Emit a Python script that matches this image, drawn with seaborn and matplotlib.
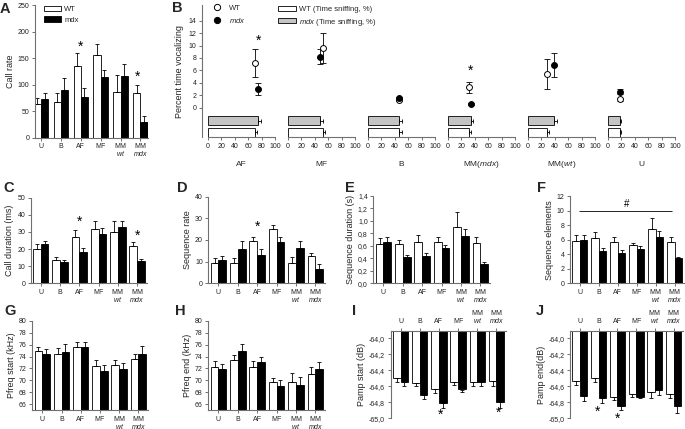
import numpy as np
import pandas as pd
import matplotlib
matplotlib.use('Agg')
import matplotlib.pyplot as plt
import seaborn as sns
from matplotlib.patches import Patch
from matplotlib.lines import Line2D
from matplotlib.ticker import FuncFormatter

# ---- data ----
conds = ['U', 'B', 'AF', 'MF', 'MM\n$\\it{wt}$', 'MM\n$\\it{mdx}$']

# A: call rate
rate_wt = [63, 68, 135, 156, 87, 84]
rate_wt_err = [11, 16, 24, 20, 31, 16]
rate_mdx = [73, 90, 76, 114, 117, 30]
rate_mdx_err = [12, 22, 18, 14, 21, 11]

# B: percent time vocalizing vs time sniffing
contexts = ['AF', 'MF', 'B', 'MM($\\it{mdx}$)', 'MM($\\it{wt}$)', 'U']
voc_wt = [7.2, 9.6, 1.25, 3.25, 5.4, 1.35]
voc_wt_err = [2.2, 2.4, 0.15, 0.95, 2.4, 0.2]
voc_mdx = [3.0, 8.2, 1.6, 0.6, 6.9, 2.6]
voc_mdx_err = [1.0, 1.2, 0.15, 0.15, 1.9, 0.4]
sniff_wt = [69.5, 52, 47, 31.5, 28, 18]
sniff_wt_err = [3.5, 2.5, 3, 3, 4, 1.5]
sniff_mdx = [74.5, 47.5, 47, 34, 39, 18]
sniff_mdx_err = [4.5, 4, 3.5, 4, 4, 1.5]

# C: call duration (ms)
dur_wt = [20.0, 13.6, 26.9, 31.5, 30.2, 22.0]
dur_wt_err = [2.8, 2.0, 4.0, 5.1, 6.4, 2.3]
dur_mdx = [22.8, 12.3, 18.1, 28.8, 33.1, 13.2]
dur_mdx_err = [2.1, 1.3, 2.3, 3.3, 3.5, 1.0]

# D: sequence rate
seq_wt = [9.5, 9.5, 19.5, 24.9, 9.2, 12.6]
seq_wt_err = [2.0, 2.3, 2.0, 2.0, 2.8, 1.2]
seq_mdx = [10.8, 15.8, 13.1, 19.1, 16.5, 6.5]
seq_mdx_err = [2.0, 3.7, 2.6, 2.4, 3.0, 2.3]

# E: sequence duration (s)
sdur_wt = [0.63, 0.625, 0.668, 0.657, 0.908, 0.652]
sdur_wt_err = [0.09, 0.07, 0.107, 0.091, 0.232, 0.096]
sdur_mdx = [0.67, 0.417, 0.438, 0.561, 0.764, 0.305]
sdur_mdx_err = [0.08, 0.037, 0.052, 0.054, 0.106, 0.032]

# F: sequence elements
elem_wt = [5.86, 6.27, 5.73, 5.27, 7.47, 5.63]
elem_wt_err = [0.78, 0.83, 0.68, 0.32, 1.46, 0.78]
elem_mdx = [5.95, 4.44, 4.21, 4.72, 6.41, 3.44]
elem_mdx_err = [0.69, 0.37, 0.37, 0.41, 0.78, 0.22]

# G: peak frequency start (kHz)
fst_wt = [74.9, 74.4, 75.7, 72.4, 72.5, 73.6]
fst_wt_err = [0.8, 1.0, 0.8, 1.0, 1.0, 0.8]
fst_mdx = [74.4, 74.7, 75.6, 71.5, 71.9, 74.4]
fst_mdx_err = [0.9, 1.4, 0.8, 1.1, 1.0, 1.4]

# H: peak frequency end (kHz)
fend_wt = [72.3, 73.4, 72.3, 69.8, 69.7, 71.1]
fend_wt_err = [1.0, 0.9, 1.0, 0.6, 1.6, 1.1]
fend_mdx = [71.9, 74.9, 73.1, 69.1, 69.2, 71.9]
fend_mdx_err = [0.9, 1.3, 0.9, 1.0, 1.4, 1.2]

# I: peak amplitude start (dB)
ast_wt = [-64.50, -64.56, -64.63, -64.54, -64.55, -64.53]
ast_wt_err = [0.05, 0.04, 0.05, 0.04, 0.05, 0.07]
ast_mdx = [-64.55, -64.71, -64.81, -64.64, -64.55, -64.79]
ast_mdx_err = [0.04, 0.05, 0.06, 0.03, 0.05, 0.08]

# J: peak amplitude end (dB)
aend_wt = [-64.53, -64.50, -64.73, -64.70, -64.67, -64.70]
aend_wt_err = [0.05, 0.04, 0.04, 0.03, 0.08, 0.04]
aend_mdx = [-64.72, -64.75, -64.85, -64.73, -64.65, -64.84]
aend_mdx_err = [0.06, 0.06, 0.05, 0.02, 0.06, 0.09]

# ---- style ----
sns.set_theme(style='ticks')
plt.rcParams['font.family'] = ['Liberation Sans', 'DejaVu Sans']
plt.rcParams.update({'mathtext.fontset': 'custom',
                     'mathtext.rm': 'Liberation Sans',
                     'mathtext.it': 'Liberation Sans:italic',
                     'mathtext.bf': 'Liberation Sans:bold'})

SP = '#707070'
pal = {'WT': 'white', 'mdx': 'black'}

W, H = 685, 429
fig = plt.figure(figsize=(W / 100, H / 100), dpi=100)


def add_ax(x0, y0, x1, y1):
    # pixel box, y measured from the top
    return fig.add_axes([x0 / W, 1 - y1 / H, (x1 - x0) / W, (y1 - y0) / H])


def style(ax, left=True, bottom=True, top=False):
    for side, on in [('left', left), ('bottom', bottom), ('top', top), ('right', False)]:
        ax.spines[side].set_visible(on)
        ax.spines[side].set_color(SP)
        ax.spines[side].set_linewidth(0.8)
    ax.tick_params(length=2.5, width=0.7, color=SP, labelsize=5, pad=1.5, labelcolor='#222')


def comma(v, p):
    return f'{v:.1f}'.replace('.', ',')


def bar_panel(ax, wt, wt_err, mdx, mdx_err, ylim, yticks, ylabel, width=0.8, hang=False, fmt=None):
    df = pd.DataFrame({'cond': conds * 2, 'geno': ['WT'] * 6 + ['mdx'] * 6,
                       'val': list(wt) + list(mdx)})
    base = ylim[1] if hang else 0
    df['h'] = df['val'] - base
    sns.barplot(data=df, x='cond', y='h', hue='geno', hue_order=['WT', 'mdx'], palette=pal,
                saturation=1, width=width, edgecolor='black', linewidth=0.6, errorbar=None,
                legend=False, bottom=base, ax=ax)
    x = np.arange(6)
    d = width / 4
    z = np.zeros(6)
    for xs, v, e in [(x - d, wt, wt_err), (x + d, mdx, mdx_err)]:
        yerr = [e, z] if hang else [z, e]
        ax.errorbar(xs, v, yerr=yerr, fmt='none', ecolor='black', elinewidth=0.6,
                    capsize=1.6, capthick=0.6)
    ax.set_xlim(-0.52, 5.5)
    ax.set_ylim(*ylim)
    ax.set_yticks(yticks)
    ax.set_xlabel('')
    ax.set_ylabel(ylabel, fontsize=6.5, labelpad=2)
    if fmt:
        ax.yaxis.set_major_formatter(FuncFormatter(fmt))
    style(ax, bottom=not hang, top=hang)
    if hang:
        ax.xaxis.tick_top()
        ax.tick_params(axis='x', length=2.5, width=0.7, color=SP, labelsize=5, pad=1.5)
    for lab in ax.get_xticklabels():
        lab.set_linespacing(0.85)


def star(ax, x, y, s='*', size=10):
    ax.text(x, y, s, ha='center', va='center', fontsize=size, color='black')


# ---- A ----
axA = add_ax(35, 5, 148, 137.7)
bar_panel(axA, rate_wt, rate_wt_err, rate_mdx, rate_mdx_err, (0, 250), range(0, 251, 50),
          'Call rate', width=0.72)
axA.set_xlim(-0.3, 5.38)
star(axA, 2, 172)
star(axA, 4.85, 114)
axA.legend(handles=[Patch(facecolor='white', edgecolor='black', lw=0.6),
                    Patch(facecolor='black', edgecolor='black', lw=0.6)],
           labels=['WT', 'mdx'], loc='upper left', bbox_to_anchor=(40 / W, 1 - 2 / H),
           bbox_transform=fig.transFigure, frameon=False, fontsize=5.5, borderpad=0,
           handlelength=2.3, handleheight=0.65, handletextpad=0.4, labelspacing=0.45)

# ---- B ----
axB = add_ax(202, 5, 677, 137)
px = 0.67
off = 80 / px
axB.set_xlim(-6 / px, (677 - 208) / px)
axB.set_ylim(-4.72, 16.53)
axB.patch.set_visible(False)
xs_wt = [i * off + s for i, s in enumerate(sniff_wt)]
xs_mdx = [i * off + s for i, s in enumerate(sniff_mdx)]
axB.errorbar(xs_wt, voc_wt, yerr=voc_wt_err, fmt='none', ecolor='black', elinewidth=0.6,
             capsize=2, capthick=0.6)
axB.errorbar(xs_mdx, voc_mdx, yerr=voc_mdx_err, fmt='none', ecolor='black', elinewidth=0.6,
             capsize=2, capthick=0.6)
sns.scatterplot(x=xs_wt, y=voc_wt, color='white', edgecolor='black', s=18, linewidth=0.7,
                ax=axB, zorder=3)
sns.scatterplot(x=xs_mdx, y=voc_mdx, color='black', edgecolor='black', s=18, linewidth=0.7,
                ax=axB, zorder=3)
axB.set_yticks(range(0, 15, 2))
axB.set_xticks([])
axB.set_ylabel('Percent time vocalizing', fontsize=6.5, labelpad=3)
style(axB, bottom=False)
star(axB, xs_mdx[0] + 1, 10.8)
star(axB, xs_mdx[3], 6.0)
leg1 = axB.legend(handles=[Line2D([], [], marker='o', ls='', mfc='white', mec='black', ms=4.5, mew=0.7),
                           Line2D([], [], marker='o', ls='', mfc='black', mec='black', ms=4.5, mew=0.7)],
                  labels=['WT', '$\\it{mdx}$'], loc='upper left',
                  bbox_to_anchor=(209 / W, 1 - 1 / H), bbox_transform=fig.transFigure,
                  frameon=False, fontsize=5.5, borderpad=0, handlelength=1.2,
                  handletextpad=0.9, labelspacing=0.45)
axB.add_artist(leg1)
axB.legend(handles=[Patch(facecolor='white', edgecolor='black', lw=0.6),
                    Patch(facecolor='#c4c4c4', edgecolor='black', lw=0.6)],
           labels=['WT (Time sniffing, %)', '$\\it{mdx}$ (Time sniffing, %)'], loc='upper left',
           bbox_to_anchor=(274 / W, 1 - 2 / H), bbox_transform=fig.transFigure,
           frameon=False, fontsize=5.5, borderpad=0, handlelength=2.4, handleheight=0.66,
           handletextpad=0.4, labelspacing=0.45)

for i, ctx in enumerate(contexts):
    ax = add_ax(208 + 80 * i, 114, 275 + 80 * i, 137)
    ax.barh([1, 0], [sniff_mdx[i], sniff_wt[i]], height=0.77, color=['#c4c4c4', 'white'],
            edgecolor='black', linewidth=0.6)
    ax.errorbar([sniff_mdx[i], sniff_wt[i]], [1, 0],
                xerr=[[0, 0], [sniff_mdx_err[i], sniff_wt_err[i]]], fmt='none', ecolor='black',
                elinewidth=0.6, capsize=1.6, capthick=0.6)
    ax.set_xlim(0, 100)
    ax.set_ylim(-0.41, 1.56)
    ax.set_xticks(range(0, 101, 20))
    ax.set_yticks([])
    ax.patch.set_visible(False)
    style(ax, left=False)
    ax.text(0.5, -(164 - 137) / 23, ctx, transform=ax.transAxes, ha='center', va='center',
            fontsize=6)

# ---- C-F ----
axC = add_ax(30.7, 197.7, 146.7, 283.3)
bar_panel(axC, dur_wt, dur_wt_err, dur_mdx, dur_mdx_err, (0, 50), range(0, 51, 10),
          'Call duration (ms)')
star(axC, 2, 36)
star(axC, 5, 28)

axD = add_ax(208.3, 196.7, 325, 283.3)
bar_panel(axD, seq_wt, seq_wt_err, seq_mdx, seq_mdx_err, (0, 40), range(0, 41, 10),
          'Sequence rate')
star(axD, 2, 26)

axE = add_ax(373.3, 196, 490, 283.3)
bar_panel(axE, sdur_wt, sdur_wt_err, sdur_mdx, sdur_mdx_err, (0, 1.4), np.arange(0, 1.41, 0.2),
          'Sequence duration (s)', fmt=comma)

axF = add_ax(570, 196, 684, 283.3)
bar_panel(axF, elem_wt, elem_wt_err, elem_mdx, elem_mdx_err, (0, 12), range(0, 13, 2),
          'Sequence elements')
axF.hlines(10, -0.05, 4.85, color='black', lw=0.6)
star(axF, 2.45, 10.9, s='#', size=7)

# ---- G-J ----
axG = add_ax(32.3, 321, 148, 410)
bar_panel(axG, fst_wt, fst_wt_err, fst_mdx, fst_mdx_err, (65, 80), range(66, 81, 2),
          'Pfreq start (kHz)')

axH = add_ax(208.3, 321, 325, 410)
bar_panel(axH, fend_wt, fend_wt_err, fend_mdx, fend_mdx_err, (65, 80), range(66, 81, 2),
          'Pfreq end (kHz)')

axI = add_ax(390.7, 330.7, 506, 418.3)
bar_panel(axI, ast_wt, ast_wt_err, ast_mdx, ast_mdx_err, (-65.0, -63.905),
          np.arange(-65.0, -63.99, 0.2), 'Pamp start (dB)', hang=True, fmt=comma)
star(axI, 2.1, -64.95)
star(axI, 5.1, -64.93)

axJ = add_ax(570, 330.7, 683, 418.3)
bar_panel(axJ, aend_wt, aend_wt_err, aend_mdx, aend_mdx_err, (-65.0, -63.905),
          np.arange(-65.0, -63.99, 0.2), 'Pamp end(dB)', hang=True, fmt=comma)
star(axJ, 0.95, -64.92)
star(axJ, 2.0, -65.0)

# ---- panel letters ----
for lab, (x, y) in {'A': (0, 2), 'B': (172, 1), 'C': (3, 181), 'D': (177, 181),
                    'E': (345, 181), 'F': (537, 181), 'G': (4, 304), 'H': (175, 304),
                    'I': (352, 304), 'J': (536, 304)}.items():
    fig.text(x / W, 1 - y / H, lab, fontsize=10.5, fontweight='bold', ha='left', va='top')

fig.savefig('out.png', dpi=100)
